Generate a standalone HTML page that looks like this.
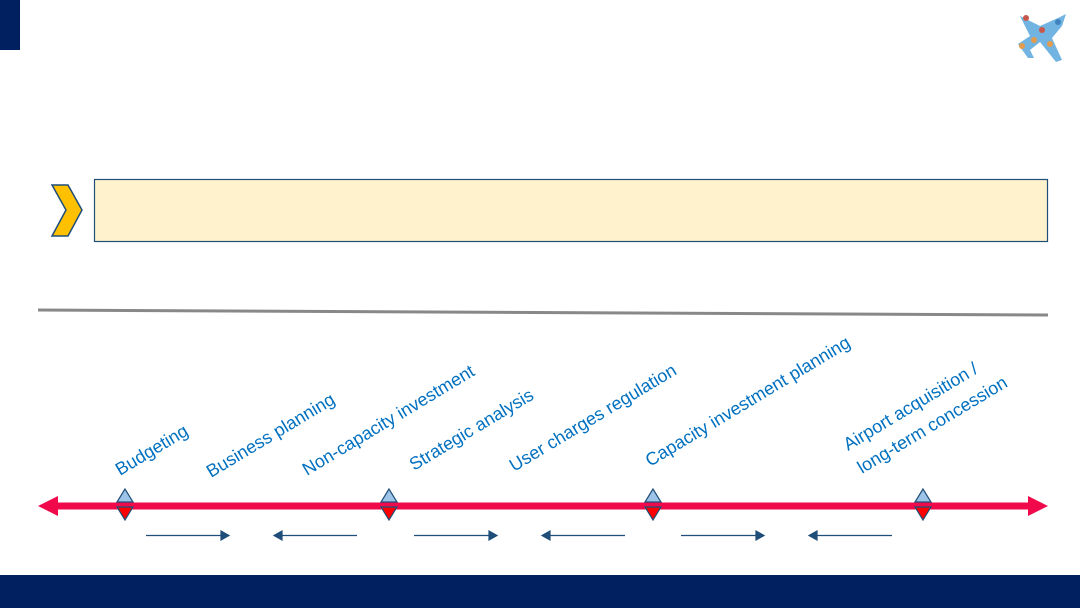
<!DOCTYPE html>
<html><head><style>
body{margin:0;width:1080px;height:608px;overflow:hidden;background:#fff;font-family:"Liberation Sans",sans-serif;}
</style></head><body>
<svg width="1080" height="608" viewBox="0 0 1080 608" xmlns="http://www.w3.org/2000/svg">
<rect x="0" y="0" width="20" height="50" fill="#002060"/>
<rect x="0" y="575" width="1080" height="33" fill="#002060"/>
<g opacity="0.85">
<polygon points="1020,16 1040,26 1058,18 1066,14 1062,26 1052,38 1062,60 1056,62 1040,42 1030,50 1034,58 1028,58 1018,44 1030,36" fill="#5aa7dc"/>
<circle cx="1026" cy="18" r="3" fill="#c0392b"/><circle cx="1042" cy="30" r="3" fill="#c0392b"/><circle cx="1034" cy="40" r="3" fill="#e08a2c"/><circle cx="1050" cy="44" r="3" fill="#e08a2c"/><circle cx="1058" cy="22" r="3" fill="#1f6fb5"/><circle cx="1022" cy="46" r="3" fill="#e08a2c"/>
</g>
<polygon points="52,185 68,185 82,210 68,236 52,236 66,210" fill="#ffc000" stroke="#1f4e79" stroke-width="1.5"/>
<rect x="94.5" y="179.5" width="953" height="62" fill="#fff2cc" stroke="#1f4e79" stroke-width="1.2"/>
<line x1="38" y1="310" x2="1048" y2="315" stroke="#888" stroke-width="3"/>
<line x1="55" y1="506" x2="1032" y2="506" stroke="#f00a4b" stroke-width="7"/>
<polygon points="38,506 58,496 58,516" fill="#f00a4b"/>
<polygon points="1048,506 1028,496 1028,516" fill="#f00a4b"/>
<g stroke="#1f4e79" stroke-width="1.2">
<polygon points="125,489 117,502 133,502" fill="#9dc3e6"/><polygon points="125,520 117,507 133,507" fill="#f00"/>
<polygon points="389,489 381,502 397,502" fill="#9dc3e6"/><polygon points="389,520 381,507 397,507" fill="#f00"/>
<polygon points="653,489 645,502 661,502" fill="#9dc3e6"/><polygon points="653,520 645,507 661,507" fill="#f00"/>
<polygon points="923,489 915,502 931,502" fill="#9dc3e6"/><polygon points="923,520 915,507 931,507" fill="#f00"/>
</g>
<g stroke="#1f4e79" stroke-width="1.2" fill="#1f4e79">
<line x1="146" y1="535.5" x2="222" y2="535.5"/><polygon points="229,535.5 221,531 221,540"/>
<line x1="281" y1="535.5" x2="357" y2="535.5"/><polygon points="274,535.5 282,531 282,540"/>
<line x1="414" y1="535.5" x2="490" y2="535.5"/><polygon points="497,535.5 489,531 489,540"/>
<line x1="549" y1="535.5" x2="625" y2="535.5"/><polygon points="542,535.5 550,531 550,540"/>
<line x1="681" y1="535.5" x2="757" y2="535.5"/><polygon points="764,535.5 756,531 756,540"/>
<line x1="816" y1="535.5" x2="892" y2="535.5"/><polygon points="809,535.5 817,531 817,540"/>
</g>
<g fill="#0070c0" font-family="Liberation Sans, sans-serif" font-size="18">
<text transform="translate(120,476) rotate(-31)">Budgeting</text>
<text transform="translate(211,478) rotate(-31)">Business planning</text>
<text transform="translate(307,476) rotate(-31)">Non-capacity investment</text>
<text transform="translate(414,471) rotate(-31)">Strategic analysis</text>
<text transform="translate(514,472) rotate(-31)">User charges regulation</text>
<text transform="translate(650,467) rotate(-31)">Capacity investment planning</text>
<text transform="translate(848,451) rotate(-31)">Airport acquisition /</text>
<text transform="translate(862,474) rotate(-31)">long-term concession</text>
</g>
</svg>
</body></html>
